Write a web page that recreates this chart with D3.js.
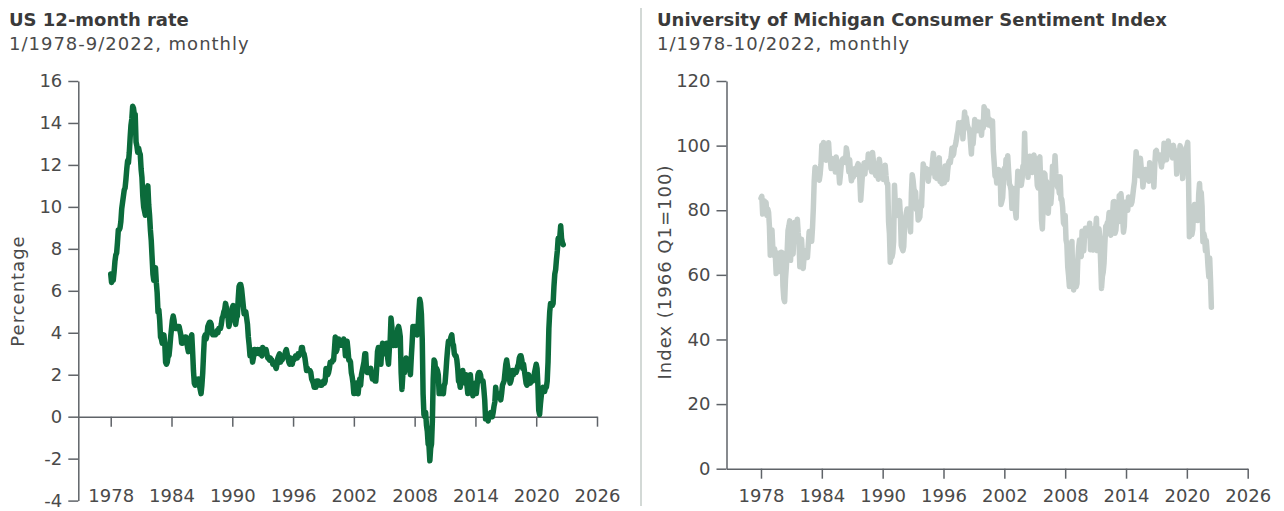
<!DOCTYPE html>
<html>
<head>
<meta charset="utf-8">
<script src="https://cdn.jsdelivr.net/npm/d3@7"></script>
<style>
  html, body { margin: 0; padding: 0; background: #fff; }
  svg { display: block; }
  text { font-family: "DejaVu Sans", "Lato", sans-serif; }
</style>
</head>
<body>
<svg id="chart" width="1284" height="511"></svg>
<script>
// ---------------- DATA ----------------
// US CPI 12-month rate (%), monthly from 1/1978
const cpiStartYear = 1978;
const cpiYoY = [
  6.8, 6.4, 6.6, 6.5, 6.9, 7.4, 7.7, 7.8, 8.3, 8.9, 8.9, 9.0,        // 1978
  9.3, 9.9, 10.2, 10.5, 10.8, 10.9, 11.3, 11.8, 12.2, 12.1, 12.6, 13.3, // 1979
  13.9, 14.2, 14.8, 14.7, 14.4, 14.4, 13.1, 12.9, 12.6, 12.8, 12.6, 12.5, // 1980
  11.8, 11.4, 10.5, 10.0, 9.8, 9.6, 10.8, 10.8, 11.0, 10.1, 9.6, 8.9,  // 1981
  8.4, 7.6, 6.8, 6.5, 6.7, 7.1, 6.4, 5.9, 5.0, 5.1, 4.6, 3.8,          // 1982
  3.7, 3.5, 3.6, 3.9, 3.5, 2.6, 2.5, 2.6, 2.9, 2.9, 3.3, 3.8,          // 1983
  4.2, 4.6, 4.8, 4.6, 4.2, 4.2, 4.2, 4.3, 4.3, 4.3, 4.1, 3.9,          // 1984
  3.5, 3.5, 3.7, 3.7, 3.8, 3.8, 3.6, 3.3, 3.1, 3.2, 3.5, 3.8,          // 1985
  3.9, 3.1, 2.2, 1.6, 1.5, 1.8, 1.6, 1.6, 1.8, 1.5, 1.3, 1.1,          // 1986
  1.5, 2.1, 3.0, 3.8, 3.9, 3.7, 3.9, 4.3, 4.4, 4.5, 4.5, 4.4,          // 1987
  4.0, 3.9, 3.9, 3.9, 3.9, 4.0, 4.1, 4.0, 4.2, 4.2, 4.2, 4.4,          // 1988
  4.7, 4.8, 5.0, 5.1, 5.4, 5.2, 5.0, 4.7, 4.3, 4.5, 4.7, 4.6,          // 1989
  5.2, 5.3, 5.2, 4.7, 4.4, 4.7, 4.8, 5.6, 6.2, 6.3, 6.3, 6.1,          // 1990
  5.7, 5.3, 4.9, 4.9, 5.0, 4.7, 4.4, 3.8, 3.4, 2.9, 3.0, 3.1,          // 1991
  2.6, 2.8, 3.2, 3.2, 3.0, 3.1, 3.2, 3.1, 3.0, 3.2, 3.0, 2.9,          // 1992
  3.3, 3.2, 3.1, 3.2, 3.2, 3.0, 2.8, 2.8, 2.7, 2.8, 2.7, 2.7,          // 1993
  2.5, 2.5, 2.5, 2.4, 2.3, 2.5, 2.8, 2.9, 3.0, 2.6, 2.7, 2.7,          // 1994
  2.8, 2.9, 2.9, 3.1, 3.2, 3.0, 2.8, 2.6, 2.5, 2.8, 2.6, 2.5,          // 1995
  2.7, 2.7, 2.8, 2.9, 2.9, 2.8, 3.0, 2.9, 3.0, 3.0, 3.3, 3.3,          // 1996
  3.0, 3.0, 2.8, 2.5, 2.2, 2.3, 2.2, 2.2, 2.2, 2.1, 1.8, 1.7,          // 1997
  1.6, 1.4, 1.4, 1.4, 1.7, 1.7, 1.7, 1.6, 1.5, 1.5, 1.5, 1.6,          // 1998
  1.7, 1.6, 1.7, 2.3, 2.1, 2.0, 2.1, 2.3, 2.6, 2.6, 2.6, 2.7,          // 1999
  2.7, 3.2, 3.8, 3.1, 3.2, 3.7, 3.7, 3.4, 3.5, 3.4, 3.4, 3.4,          // 2000
  3.7, 3.5, 2.9, 3.3, 3.6, 3.2, 2.7, 2.7, 2.6, 2.1, 1.9, 1.6,          // 2001
  1.1, 1.1, 1.5, 1.6, 1.2, 1.1, 1.5, 1.8, 1.5, 2.0, 2.2, 2.4,          // 2002
  2.6, 3.0, 3.0, 2.2, 2.1, 2.1, 2.1, 2.2, 2.3, 2.0, 1.8, 1.9,          // 2003
  1.9, 1.7, 1.7, 2.3, 3.1, 3.3, 3.0, 2.7, 2.5, 3.2, 3.5, 3.3,          // 2004
  3.0, 3.0, 3.1, 3.5, 2.8, 2.5, 3.2, 3.6, 4.7, 4.3, 3.5, 3.4,          // 2005
  4.0, 3.6, 3.4, 3.5, 4.2, 4.3, 4.1, 3.8, 2.1, 1.3, 2.0, 2.5,          // 2006
  2.1, 2.4, 2.8, 2.6, 2.7, 2.7, 2.4, 2.0, 2.8, 3.5, 4.3, 4.1,          // 2007
  4.3, 4.0, 4.0, 3.9, 4.2, 5.0, 5.6, 5.4, 4.9, 3.7, 1.1, 0.1,          // 2008
  0.0, 0.2, -0.4, -0.7, -1.3, -1.4, -2.1, -1.5, -1.3, -0.2, 1.8, 2.7,  // 2009
  2.6, 2.1, 2.3, 2.2, 2.0, 1.1, 1.2, 1.1, 1.1, 1.2, 1.1, 1.5,          // 2010
  1.6, 2.1, 2.7, 3.2, 3.6, 3.6, 3.6, 3.8, 3.9, 3.5, 3.4, 3.0,          // 2011
  2.9, 2.9, 2.7, 2.3, 1.7, 1.7, 1.4, 1.7, 2.0, 2.2, 1.8, 1.7,          // 2012
  1.6, 2.0, 1.5, 1.1, 1.4, 1.8, 2.0, 1.5, 1.2, 1.0, 1.2, 1.5,          // 2013
  1.6, 1.1, 1.5, 2.0, 2.1, 2.1, 2.0, 1.7, 1.7, 1.7, 1.3, 0.8,          // 2014
  -0.1, 0.0, -0.1, -0.2, 0.0, 0.1, 0.2, 0.2, 0.0, 0.2, 0.5, 0.7,       // 2015
  1.4, 1.0, 0.9, 1.1, 1.0, 1.0, 0.8, 1.1, 1.5, 1.6, 1.7, 2.1,          // 2016
  2.5, 2.7, 2.4, 2.2, 1.9, 1.6, 1.7, 1.9, 2.2, 2.0, 2.2, 2.1,          // 2017
  2.1, 2.2, 2.4, 2.5, 2.8, 2.9, 2.9, 2.7, 2.3, 2.5, 2.2, 1.9,          // 2018
  1.6, 1.5, 1.9, 2.0, 1.8, 1.6, 1.8, 1.7, 1.7, 1.8, 2.1, 2.3,          // 2019
  2.5, 2.3, 1.5, 0.3, 0.1, 0.6, 1.0, 1.3, 1.4, 1.2, 1.2, 1.4,          // 2020
  1.4, 1.7, 2.6, 4.2, 5.0, 5.4, 5.4, 5.3, 5.4, 6.2, 6.8, 7.0,          // 2021
  7.5, 7.9, 8.5, 8.3, 8.6, 9.1, 8.5, 8.3, 8.2                          // 2022
];

// University of Michigan Consumer Sentiment Index, monthly from 1/1978
const sentStartYear = 1978;
const sentiment = [
  83.7, 84.3, 78.8, 81.6, 82.9, 80.0, 82.4, 78.4, 80.4, 79.3, 75.0, 66.1, // 1978
  72.1, 73.9, 68.4, 66.0, 68.1, 65.8, 60.4, 64.5, 66.7, 62.1, 63.3, 61.0, // 1979
  67.0, 66.9, 56.5, 52.7, 51.7, 58.7, 62.3, 67.3, 73.7, 75.0, 76.7, 64.5, // 1980
  71.4, 66.9, 66.5, 72.4, 76.3, 73.1, 74.1, 77.2, 73.1, 70.3, 62.5, 64.3, // 1981
  71.0, 66.5, 62.0, 65.5, 67.5, 65.7, 65.4, 65.4, 69.3, 73.4, 72.1, 71.9, // 1982
  70.4, 74.6, 80.8, 89.1, 93.3, 92.2, 92.8, 90.9, 89.9, 89.3, 91.1, 94.2, // 1983
  100.1, 97.4, 101.0, 96.1, 98.1, 95.5, 96.6, 99.1, 100.9, 96.3, 95.7, 92.9, // 1984
  96.0, 93.7, 93.7, 94.6, 91.8, 96.5, 94.0, 92.4, 92.1, 88.4, 90.9, 93.9, // 1985
  95.6, 95.9, 95.1, 96.2, 94.8, 99.3, 97.7, 94.9, 91.9, 95.6, 91.4, 89.1, // 1986
  90.4, 90.2, 90.8, 92.8, 91.1, 91.5, 93.7, 94.4, 93.6, 89.3, 83.1, 86.8, // 1987
  90.8, 91.6, 94.6, 91.2, 94.8, 94.7, 93.4, 97.4, 97.3, 94.1, 93.0, 91.9, // 1988
  97.9, 95.4, 94.3, 91.5, 90.7, 90.6, 92.0, 89.6, 95.8, 93.9, 90.9, 90.5, // 1989
  93.0, 89.5, 91.3, 93.9, 90.6, 88.3, 88.2, 76.4, 72.8, 63.9, 66.0, 65.5, // 1990
  66.8, 70.4, 87.7, 81.8, 78.3, 82.1, 82.9, 82.0, 83.0, 78.3, 69.1, 68.2, // 1991
  67.5, 68.8, 76.0, 77.2, 79.2, 80.4, 76.6, 76.1, 75.6, 73.3, 85.3, 91.0, // 1992
  89.3, 86.6, 85.9, 85.6, 80.3, 81.5, 77.0, 77.3, 77.9, 82.7, 81.2, 88.2, // 1993
  94.3, 93.2, 91.5, 92.6, 92.8, 91.2, 89.0, 91.7, 91.5, 92.7, 91.6, 95.1, // 1994
  97.6, 95.1, 90.3, 92.5, 89.8, 92.7, 94.4, 96.2, 88.9, 90.2, 88.2, 91.0, // 1995
  89.3, 88.5, 93.7, 92.7, 89.4, 92.4, 94.7, 95.3, 94.7, 96.5, 99.2, 96.9, // 1996
  97.4, 99.7, 100.0, 101.4, 103.2, 104.5, 107.1, 104.4, 106.0, 105.6, 107.2, 102.1, // 1997
  106.6, 110.4, 106.5, 108.7, 106.5, 105.6, 105.2, 104.4, 100.9, 97.4, 102.7, 100.5, // 1998
  103.9, 108.1, 105.7, 104.6, 106.8, 107.3, 106.0, 104.5, 107.2, 103.2, 107.2, 105.4, // 1999
  112.0, 111.3, 107.1, 109.2, 110.7, 106.4, 108.3, 107.3, 106.8, 105.8, 107.6, 98.4, // 2000
  94.7, 90.6, 91.5, 88.4, 92.0, 92.6, 92.4, 91.5, 81.8, 82.7, 83.9, 88.8, // 2001
  93.0, 90.7, 95.7, 93.0, 96.9, 92.4, 88.1, 87.6, 86.1, 80.6, 84.2, 86.7, // 2002
  82.4, 79.9, 77.6, 86.0, 92.1, 89.7, 90.9, 89.3, 87.7, 89.6, 93.7, 92.6, // 2003
  103.8, 94.4, 95.8, 94.2, 90.2, 95.6, 96.7, 95.9, 94.2, 91.7, 92.8, 97.1, // 2004
  95.5, 94.1, 92.6, 87.7, 86.9, 96.0, 96.5, 89.1, 76.9, 74.2, 81.6, 91.5, // 2005
  91.2, 86.7, 88.9, 87.4, 79.1, 84.9, 84.7, 82.0, 85.4, 93.6, 92.1, 91.7, // 2006
  96.9, 91.3, 88.4, 87.1, 88.3, 85.3, 90.4, 83.4, 83.4, 80.9, 76.1, 75.5, // 2007
  78.4, 70.8, 69.5, 62.6, 59.8, 56.4, 61.2, 63.0, 70.3, 57.6, 55.3, 60.1, // 2008
  61.2, 56.3, 57.3, 65.1, 68.7, 70.8, 66.0, 65.7, 73.5, 70.6, 67.4, 72.5, // 2009
  74.4, 73.6, 73.6, 72.2, 73.6, 76.0, 67.8, 68.9, 68.2, 67.7, 71.6, 74.5, // 2010
  74.2, 77.5, 67.5, 69.8, 74.3, 71.5, 63.7, 55.8, 59.5, 60.8, 63.7, 69.9, // 2011
  75.0, 75.3, 76.2, 76.4, 79.3, 73.2, 72.3, 74.3, 78.3, 82.6, 82.7, 72.9, // 2012
  73.8, 77.6, 78.6, 76.4, 84.5, 84.1, 85.1, 82.1, 77.5, 73.2, 75.1, 82.5, // 2013
  81.2, 81.6, 80.0, 84.1, 81.9, 82.5, 81.8, 82.5, 84.6, 86.9, 88.8, 93.6, // 2014
  98.1, 95.4, 93.0, 95.9, 90.7, 96.1, 93.1, 91.9, 87.2, 90.0, 91.3, 92.6, // 2015
  92.0, 91.7, 91.0, 89.0, 94.7, 93.5, 90.0, 89.8, 91.2, 87.2, 93.8, 98.2, // 2016
  98.5, 96.3, 96.9, 97.0, 97.1, 95.1, 93.4, 96.8, 95.1, 100.7, 98.5, 95.9, // 2017
  95.7, 99.7, 101.4, 98.8, 98.0, 98.2, 97.9, 96.2, 100.1, 98.6, 97.5, 98.3, // 2018
  91.2, 93.8, 98.4, 97.2, 100.0, 98.2, 98.4, 89.8, 93.2, 95.5, 96.8, 99.3, // 2019
  99.8, 101.0, 89.1, 71.8, 72.3, 78.1, 72.5, 74.1, 80.4, 81.8, 76.9, 80.7, // 2020
  79.0, 76.8, 84.9, 88.3, 82.9, 85.5, 81.2, 70.3, 72.8, 71.7, 67.4, 70.6, // 2021
  67.2, 62.8, 59.4, 65.2, 58.4, 50.0                                      // 2022
];

const xTickYears = [1978, 1984, 1990, 1996, 2002, 2008, 2014, 2020, 2026];
const cpiTicks = [-4, -2, 0, 2, 4, 6, 8, 10, 12, 14, 16];
const sentTicks = [0, 20, 40, 60, 80, 100, 120];

// ---------------- DRAW ----------------
const svg = d3.select("#chart");
const FONT = "'DejaVu Sans', Lato, sans-serif";
const AXIS_COLOR = "#5f6368";
const TEXT_COLOR = "#4a4a4a";
const FS = 18;

function monthly(start, arr) {
  return arr.map((v, i) => ({ t: start + i / 12, v }));
}

function panel(o) {
  const g = svg.append("g");
  // titles
  g.append("text").attr("x", o.titleX).attr("y", 26)
    .attr("font-size", 18).attr("font-weight", 700).attr("fill", "#3a3a3a")
    .text(o.title);
  g.append("text").attr("x", o.titleX).attr("y", 49.5)
    .attr("font-size", 18).attr("fill", "#4a4a4a").attr("letter-spacing", 1)
    .text(o.subtitle);

  const x = d3.scaleLinear().domain(o.xDomain).range(o.xRange);
  const y = d3.scaleLinear().domain(o.yDomain).range(o.yRange);

  // y axis
  const ya = g.append("g").attr("transform", `translate(${o.xRange[0]},0)`)
    .call(d3.axisLeft(y).tickValues(o.yTicks).tickSize(10).tickSizeOuter(0).tickPadding(6).tickFormat(d3.format("d")));
  ya.select(".domain").attr("stroke", AXIS_COLOR).attr("stroke-width", 1.5);
  ya.selectAll(".tick line").attr("stroke", AXIS_COLOR).attr("stroke-width", 1.5);
  ya.selectAll(".tick text").attr("font-size", FS).attr("fill", TEXT_COLOR)
    .attr("font-family", FONT).text(d => d < 0 ? "-" + Math.abs(d) : d);

  // x axis at y = 0
  const xa = g.append("g").attr("transform", `translate(0,${y(0)})`)
    .call(d3.axisBottom(x).tickValues(xTickYears).tickSize(10).tickSizeOuter(0).tickFormat(d3.format("d")));
  xa.select(".domain").attr("stroke", AXIS_COLOR).attr("stroke-width", 1.5);
  xa.selectAll(".tick line").attr("stroke", AXIS_COLOR).attr("stroke-width", 1.5);
  xa.selectAll(".tick text").attr("font-size", FS).attr("fill", TEXT_COLOR)
    .attr("font-family", FONT)
    .attr("y", o.xLabelBaseline - y(0)).attr("dy", 0);

  // y label
  g.append("text")
    .attr("transform", `translate(${o.yLabelX},${o.yLabelY}) rotate(-90)`)
    .attr("text-anchor", "middle").attr("font-size", FS).attr("fill", TEXT_COLOR)
    .attr("letter-spacing", 1)
    .text(o.yLabel);

  // line
  const line = d3.line().x(d => x(d.t)).y(d => y(d.v));
  g.append("path").datum(o.data)
    .attr("fill", "none").attr("stroke", o.color).attr("stroke-width", 5.5)
    .attr("stroke-linejoin", "round").attr("stroke-linecap", "round")
    .attr("d", line);
}

panel({
  title: "US 12-month rate",
  subtitle: "1/1978-9/2022, monthly",
  titleX: 9,
  xDomain: [1974.8, 2026], xRange: [78.3, 597],
  yDomain: [-4, 16], yRange: [500.6, 81],
  yTicks: cpiTicks,
  xLabelBaseline: 502,
  yLabel: "Percentage", yLabelX: 23.5, yLabelY: 291,
  data: monthly(cpiStartYear, cpiYoY),
  color: "#0b6b3b"
});

panel({
  title: "University of Michigan Consumer Sentiment Index",
  subtitle: "1/1978-10/2022, monthly",
  titleX: 657,
  xDomain: [1974.6, 2026], xRange: [726.5, 1247.7],
  yDomain: [0, 120], yRange: [468.7, 81],
  yTicks: sentTicks,
  xLabelBaseline: 502.5,
  yLabel: "Index (1966 Q1=100)", yLabelX: 670.5, yLabelY: 272,
  data: monthly(sentStartYear, sentiment),
  color: "#c6cfcc"
});

// divider
svg.append("line").attr("x1", 641).attr("x2", 641).attr("y1", 8).attr("y2", 506)
  .attr("stroke", "#d3d9d6").attr("stroke-width", 2);
</script>
</body>
</html>
